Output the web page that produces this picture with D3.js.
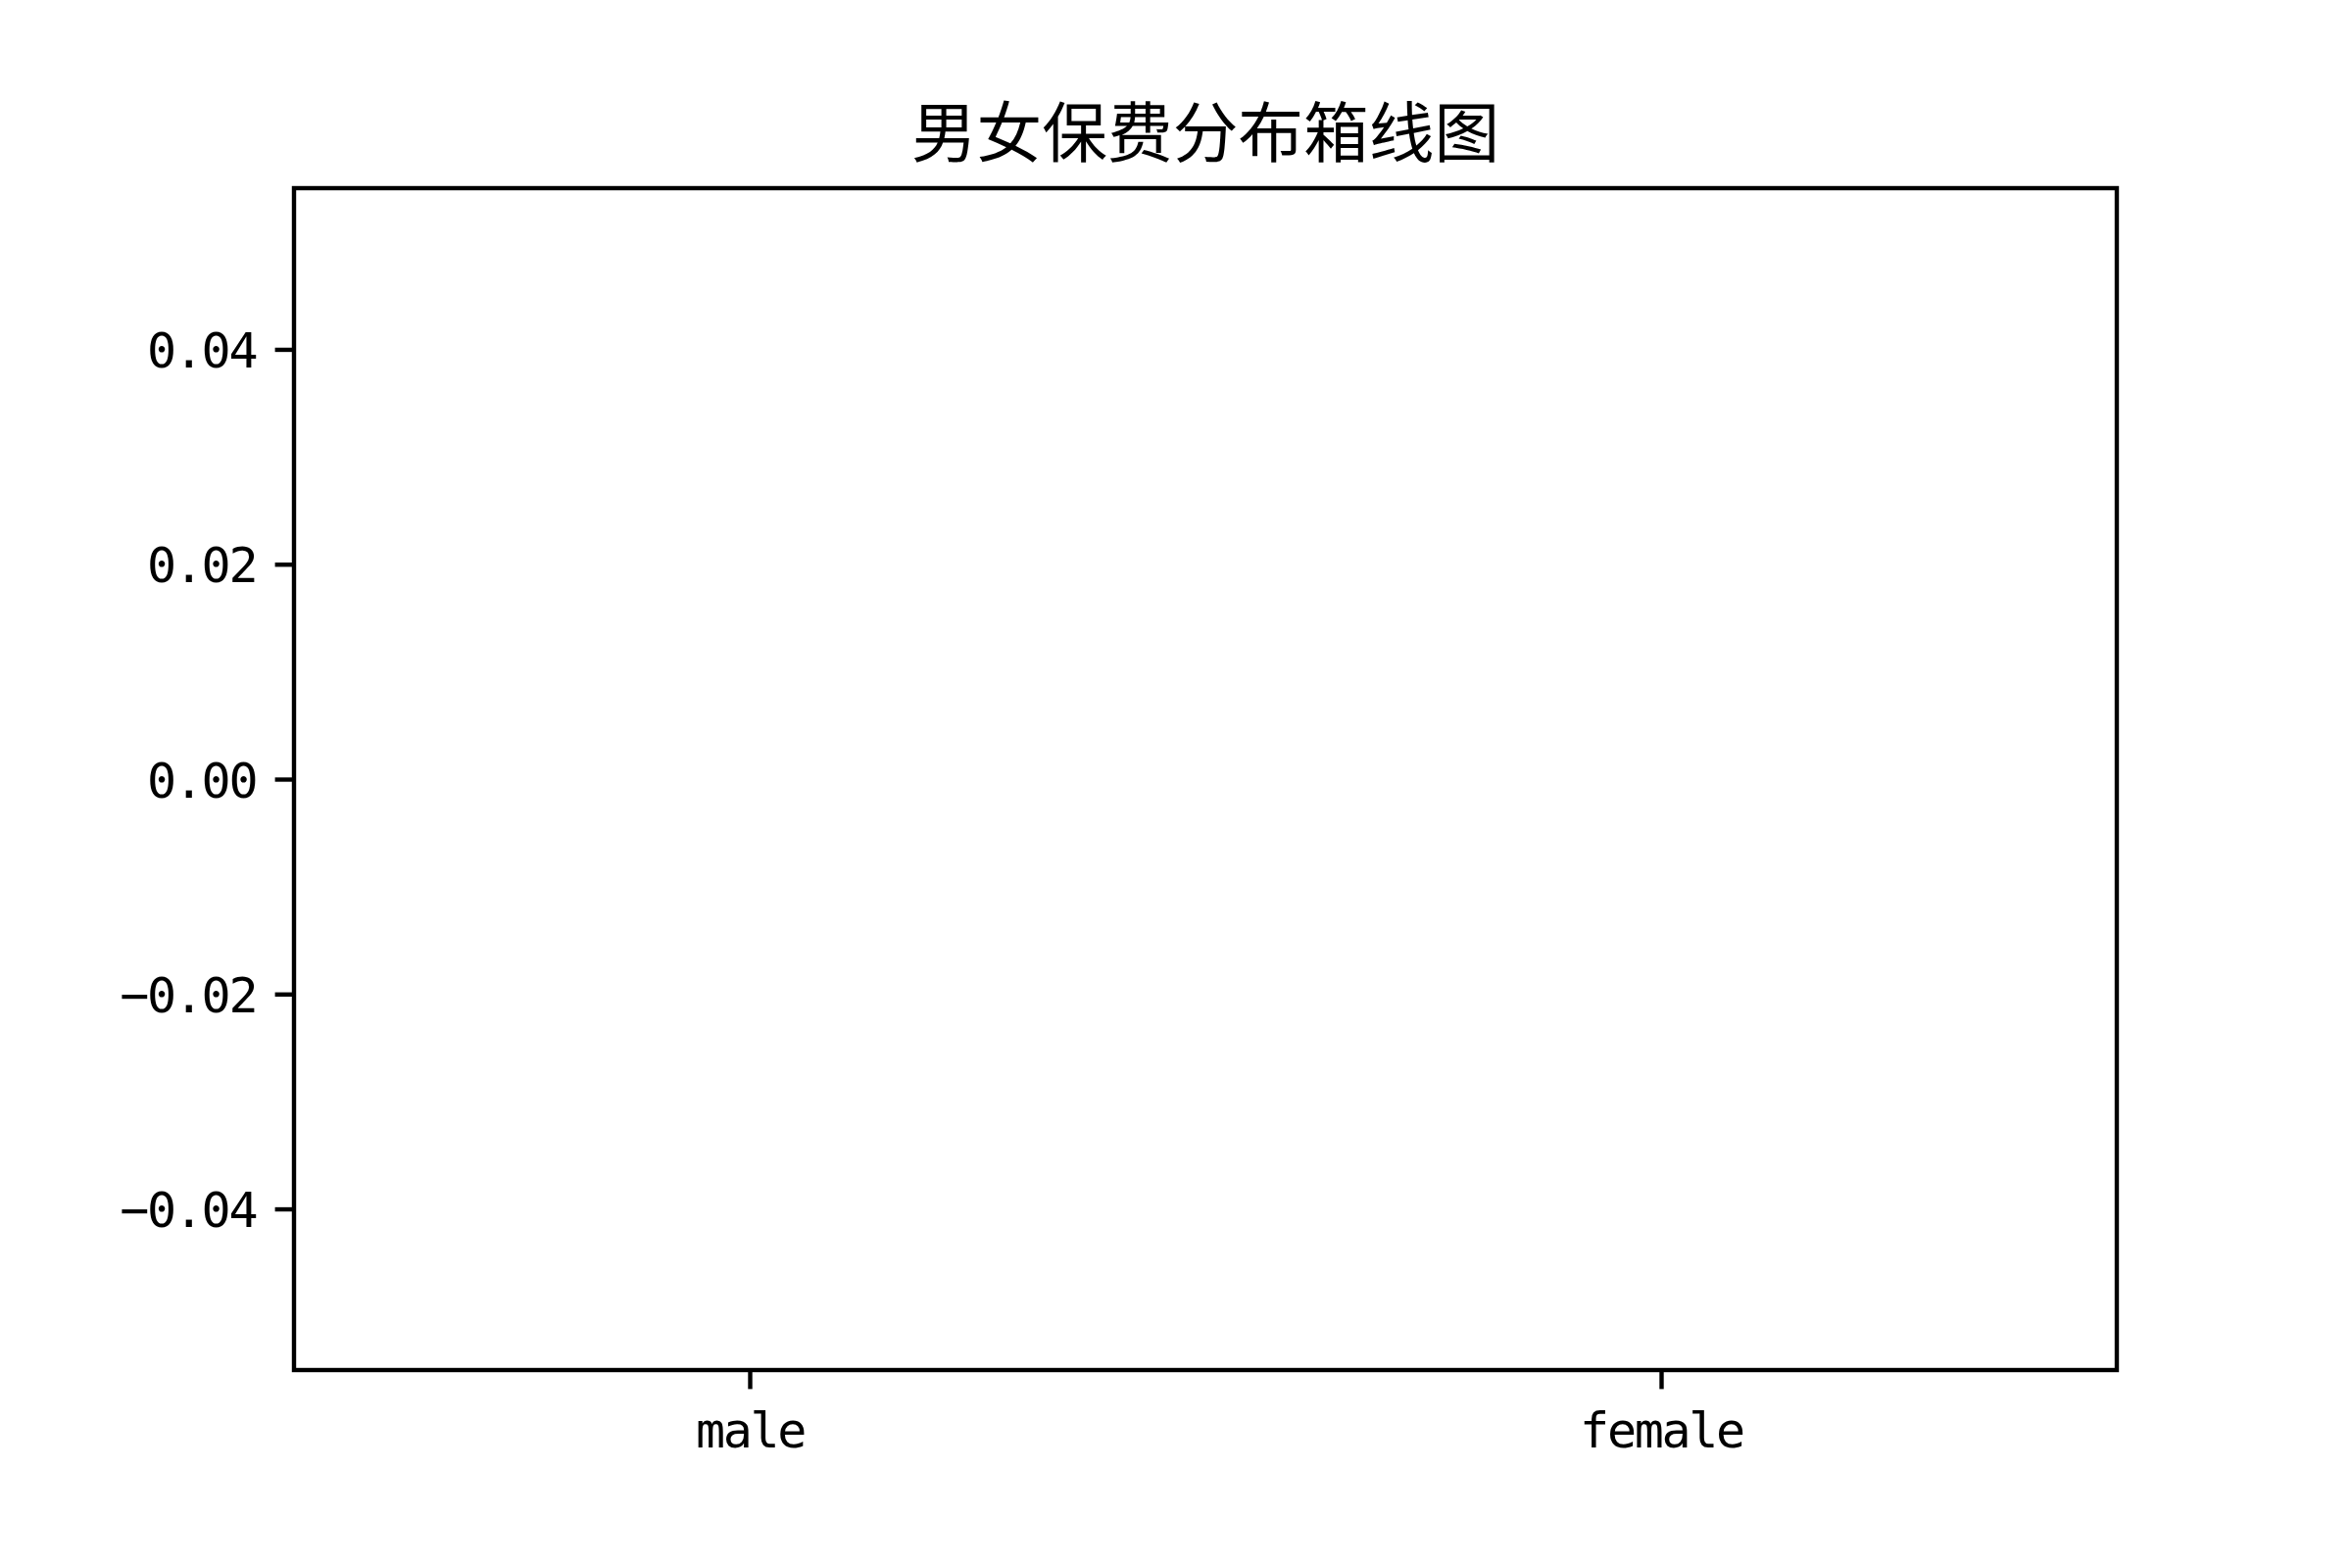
<!DOCTYPE html>
<html>
<head>
<meta charset="utf-8">
<script src="https://cdn.jsdelivr.net/npm/d3@7/dist/d3.min.js"></script>
<style>
  html, body { margin: 0; padding: 0; background: #fff; }
  svg { display: block; }
</style>
</head>
<body>
<script>
// ---- data (the reference boxplot contains no data points) ----
const categories = ["male", "female"];
const maleCharges = [];
const femaleCharges = [];
const yTickValues = [-0.04, -0.02, 0.00, 0.02, 0.04];
const yDomain = [-0.055, 0.055];
const titleText = "男女保费分布箱线图";

const W = 2400, H = 1600;
const m = { left: 300, right: 2160, top: 192, bottom: 1398 };
const lw = 4.4, tickLen = 19.4, pad = 19.4;

const svg = d3.select("body").append("svg")
  .attr("width", W).attr("height", H);

svg.append("rect").attr("width", W).attr("height", H).attr("fill", "#fff");

const x = d3.scaleLinear().domain([0.5, categories.length + 0.5]).range([m.left, m.right]);
const y = d3.scaleLinear().domain(yDomain).range([m.bottom, m.top]);

const series = [maleCharges, femaleCharges];

// boxes (none drawn because series are empty)
const g = svg.append("g");
series.forEach((vals, i) => {
  if (!vals.length) return;
  const s = vals.slice().sort(d3.ascending);
  const q1 = d3.quantile(s, 0.25), q2 = d3.quantile(s, 0.5), q3 = d3.quantile(s, 0.75);
  const cx = x(i + 1), hw = (x(1.25) - x(1)) ;
  g.append("rect").attr("x", cx - hw).attr("width", 2 * hw)
    .attr("y", y(q3)).attr("height", y(q1) - y(q3))
    .attr("fill", "none").attr("stroke", "#000").attr("stroke-width", lw);
  g.append("line").attr("x1", cx - hw).attr("x2", cx + hw)
    .attr("y1", y(q2)).attr("y2", y(q2)).attr("stroke", "#ff7f0e").attr("stroke-width", lw);
});

const tickFont = "'DejaVu Sans Mono', 'Liberation Mono', monospace";
const fmt = v => d3.format(".2f")(v).replace("-", "\u2212");

// y axis
const yAxis = d3.axisLeft(y).tickValues(yTickValues).tickSize(tickLen).tickPadding(pad).tickFormat(fmt);
const ya = svg.append("g").attr("transform", `translate(${m.left},0)`).call(yAxis);
ya.select(".domain").remove();
ya.selectAll(".tick line").attr("stroke", "#000").attr("stroke-width", lw);
ya.selectAll(".tick text")
  .attr("font-family", tickFont).attr("font-size", 50)
  .attr("letter-spacing", -2.3)
  .attr("fill", "#000").attr("dy", "0.36em");

// x axis
const xAxis = d3.axisBottom(x).tickValues(categories.map((c, i) => i + 1))
  .tickSize(tickLen).tickPadding(pad).tickFormat((d) => categories[d - 1]);
const xa = svg.append("g").attr("transform", `translate(0,${m.bottom})`).call(xAxis);
xa.select(".domain").remove();
xa.selectAll(".tick line").attr("stroke", "#000").attr("stroke-width", lw);
xa.selectAll(".tick text")
  .attr("font-family", tickFont).attr("font-size", 50)
  .attr("letter-spacing", -2.3)
  .attr("fill", "#000").attr("dy", null).attr("y", 0)
  .attr("transform", `translate(0,${1477 - m.bottom})`);

// frame
svg.append("rect")
  .attr("x", m.left).attr("y", m.top)
  .attr("width", m.right - m.left).attr("height", m.bottom - m.top)
  .attr("fill", "none").attr("stroke", "#000").attr("stroke-width", lw)
  .attr("stroke-linejoin", "miter");

// title
svg.append("text")
  .attr("x", (m.left + m.right) / 2).attr("y", 160)
  .attr("text-anchor", "middle")
  .attr("font-family", "'Noto Sans CJK SC', sans-serif")
  .attr("font-size", 66.7).attr("fill", "#000")
  .text(titleText);
</script>
</body>
</html>
